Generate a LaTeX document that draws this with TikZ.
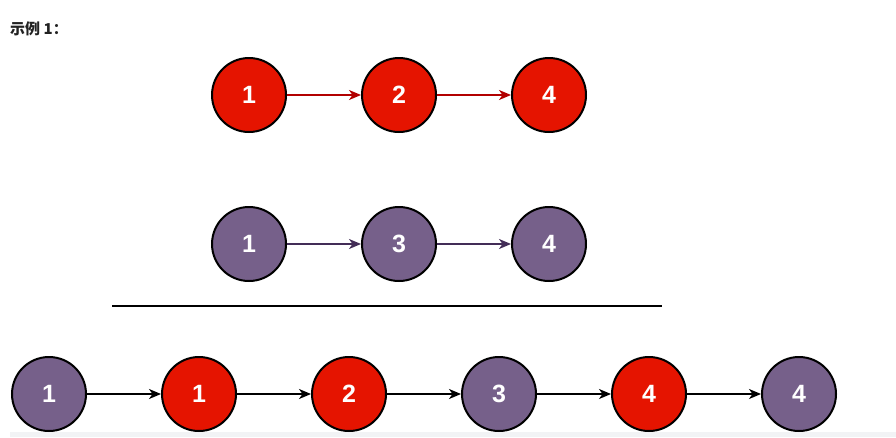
\documentclass[tikz,border=0pt]{standalone}
\usepackage{fontspec}
\setmainfont{Liberation Sans}
\newfontfamily\cjk{Noto Sans CJK SC}
\usetikzlibrary{arrows.meta}
\definecolor{nodered}{HTML}{E51400}
\definecolor{nodepurple}{HTML}{76608A}
\definecolor{arrowred}{HTML}{B20000}
\definecolor{arrowpurple}{HTML}{432D57}
\definecolor{bandgray}{HTML}{F2F3F5}
\definecolor{titlegray}{HTML}{222222}

\begin{document}
\begin{tikzpicture}[x=1pt,y=-1pt,
    listnode/.style={circle, draw=black, line width=2pt, minimum size=74pt, inner sep=0pt,
        text=white, font=\fontsize{25}{25}\selectfont\bfseries},
    rednode/.style={listnode, fill=nodered},
    purplenode/.style={listnode, fill=nodepurple},
    link/.style={line width=1.3pt, -{Stealth[length=12pt,width=10pt,inset=3.5pt]}}]
        \useasboundingbox (0,0) rectangle (896,437);
        \fill[bandgray] (10,432) rectangle (896,437);

        % Title
        \node[anchor=base west, inner sep=0pt, text=titlegray] (title) at (10,34) {\cjk\fontsize{15}{15}\selectfont\bfseries 示例 1：};

        % First list
        \node[rednode] (a1) at (249,95) {1};
        \node[rednode] (a2) at (399,95) {2};
        \node[rednode] (a3) at (549,95) {4};
        \draw[link, arrowred] (a1) -- (a2);
        \draw[link, arrowred] (a2) -- (a3);

        % Second list
        \node[purplenode] (b1) at (249,244) {1};
        \node[purplenode] (b2) at (399,244) {3};
        \node[purplenode] (b3) at (549,244) {4};
        \draw[link, arrowpurple] (b1) -- (b2);
        \draw[link, arrowpurple] (b2) -- (b3);

        % Separator
        \coordinate (sepL) at (112,306);
        \coordinate (sepR) at (662,306);
        \draw[line width=1.8pt] (sepL) -- (sepR);

        % Merged list
        \node[purplenode] (m1) at (49,394) {1};
        \node[rednode] (m2) at (199,394) {1};
        \node[rednode] (m3) at (349,394) {2};
        \node[purplenode] (m4) at (499,394) {3};
        \node[rednode] (m5) at (649,394) {4};
        \node[purplenode] (m6) at (799,394) {4};
        \draw[link] (m1) -- (m2);
        \draw[link] (m2) -- (m3);
        \draw[link] (m3) -- (m4);
        \draw[link] (m4) -- (m5);
        \draw[link] (m5) -- (m6);
    \end{tikzpicture}
\end{document}
